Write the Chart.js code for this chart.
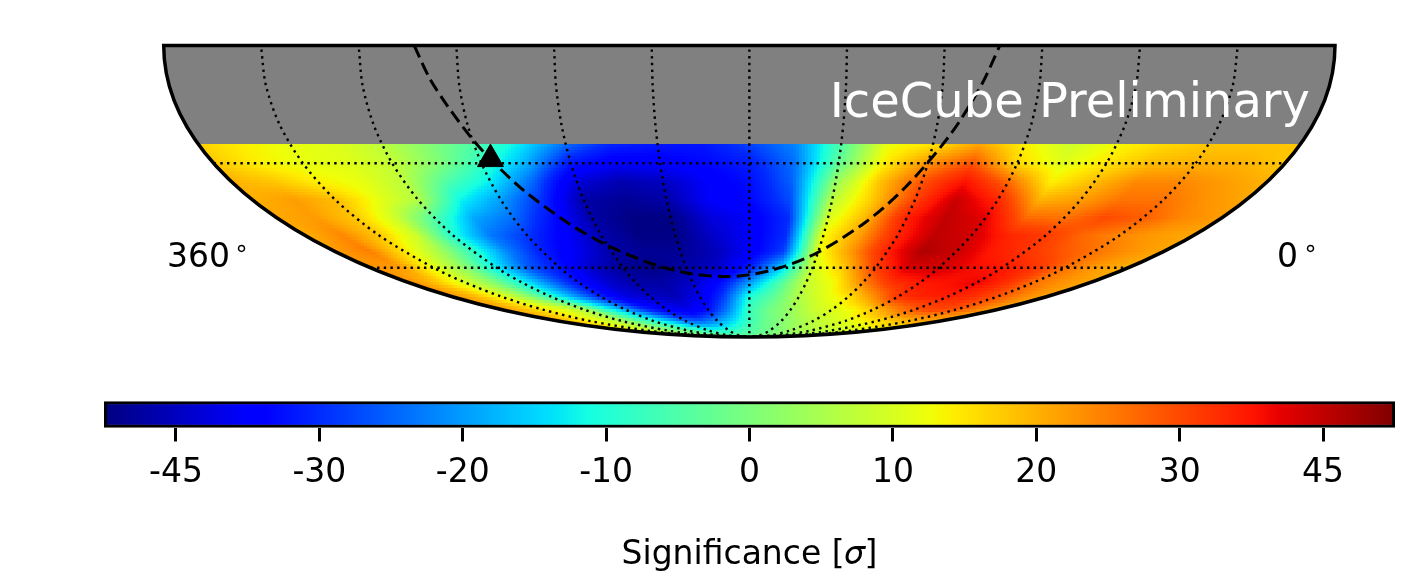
<!DOCTYPE html>
<html>
<head>
<meta charset="utf-8">
<title>IceCube Preliminary</title>
<script src="https://cdn.jsdelivr.net/npm/chart.js@4/dist/chart.umd.min.js"></script>
<style>
  html, body { margin: 0; padding: 0; background: #fff; overflow: hidden; }
  canvas { position: absolute; left: 0; }
  #mapChart { top: 0; }
  #barChart { top: 380px; }
</style>
</head>
<body>
<canvas id="mapChart" width="1427" height="380"></canvas>
<canvas id="barChart" width="1427" height="195"></canvas>
<script>
// grid of the map: right ascension runs 360 -> 0 from left to right
const raColumns = [360,345,330,315,300,285,270,255,240,225,210,195,180,165,150,135,120,105,90,75,60,45,30,15,0];
const decRows = [-25,-30,-35,-40,-45,-50,-55,-60,-65,-70,-75,-80,-85,-90];

// significance, one list per declination
const sigDec25 = [17,14,12,11,7,1,-5,-13,-24,-31,-33,-33,-28,-22,-5,12,15,21,14,9,13,16,18,18,18];
const sigDec30 = [18,14,12,11,8,1,-8,-18,-33,-38,-37,-35,-32,-24,-3,14,23,29,16,11,15,19,20,20,18];
const sigDec35 = [20,18,14,12,7,-5,-13,-25,-42,-47,-45,-38,-34,-25,3,18,29,38,27,14,19,24,24,22,20];
const sigDec40 = [20,22,19,12,6,-12,-20,-30,-48,-50,-48,-38,-35,-27,7,18,31,44,35,20,22,26,26,23,21];
const sigDec45 = [21,22,18,9,-5,-19,-24,-34,-48,-52,-52,-42,-38,-30,10,20,36,45,41,27,26,30,28,24,22];
const sigDec50 = [20,24,18,9,-10,-23,-29,-37,-47,-52,-52,-44,-38,-30,13,22,35,45,43,35,32,27,24,22,21];
const sigDec55 = [22,25,15,5,-8,-22,-32,-39,-48,-50,-50,-46,-38,-28,12,23,36,47,44,37,33,29,26,23,21];
const sigDec60 = [23,22,12,2,-13,-26,-33,-44,-50,-52,-48,-44,-32,-16,9,18,31,42,43,39,37,33,26,22,20];
const sigDec65 = [24,18,10,1,-11,-23,-34,-43,-48,-48,-44,-34,-20,-6,8,13,24,33,37,38,40,34,26,23,21];
const sigDec70 = [23,19,12,3,-9,-20,-31,-41,-44,-46,-40,-28,-10,-3,6,11,15,23,33,36,36,34,29,24,21];
const sigDec75 = [22,19,15,11,6,-8,-19,-30,-37,-40,-34,-22,-7,-1,3,8,11,13,18,24,29,31,29,25,20];
const sigDec80 = [20,18,14,10,5,-3,-9,-16,-24,-25,-20,-14,-7,-2,1,4,7,9,11,13,15,18,20,22,22];
const sigDec85 = [15,13,9,6,3,0,-3,-6,-8,-9,-9,-7,-5,-3,-1,1,3,5,6,7,8,9,10,11,12];
const sigDec90 = [-2,-2,-2,-2,-2,-2,-2,-2,-2,-2,-2,-2,-2,-2,-2,-2,-2,-2,-2,-2,-2,-2,-2,-2,-2];
const sigRows = [sigDec25,sigDec30,sigDec35,sigDec40,sigDec45,sigDec50,sigDec55,sigDec60,sigDec65,sigDec70,sigDec75,sigDec80,sigDec85,sigDec90];

// dashed curve (galactic plane) and the marker on it
const planeRa = [283,279,275,270,266.4,260,250,240,225,210,192.9,180,165,150,135,125,115,108,103];
const planeDec = [0,-8,-14.9,-23.5,-28.9,-37.2,-46.6,-53,-58.8,-61.8,-62.9,-62.3,-59.9,-55.1,-46.1,-36.3,-22.3,-9.9,0];
const centreRa = [266.4];
const centreDec = [-28.9];

// graticule
const meridians = [330,300,270,240,210,180,150,120,90,60,30];
const meridianDecs = [-1,-10,-20,-30,-40,-50,-60,-65,-70,-75,-80,-85,-88,-90];
const parallels = [-30,-60];
const parallelRas = [360,330,300,270,240,210,180,150,120,90,60,30,0];

// colour bar
const barTicks = [-4,-3,-2,-1,0,1,2,3,4];
const barTickLabels = [-45,-30,-20,-10,0,10,20,30,45];
const barEnds = [-4.5,4.5];
const barEndValues = [-52.5,52.5];

const FONT = "'DejaVu Sans', sans-serif";
const SQ2 = Math.SQRT2;

// Mollweide projection, x/y in projection units
function project(ra, dec) {
    const phi = dec * Math.PI / 180;
    let th = phi;
    for (let i = 0; i < 30; i++) {
        const d = 2 * Math.cos(2 * th) + 2;
        if (d < 1e-8) break;
        th -= (2 * th + Math.sin(2 * th) - Math.PI * Math.sin(phi)) / d;
    }
    return {
        x: (2 * SQ2 / Math.PI) * ((ra - 180) * -Math.PI / 180) * Math.cos(th) * -1 * -1,
        y: SQ2 * Math.sin(th)
    };
}

function unproject(x, y) {
    const s = y / SQ2;
    if (Math.abs(s) >= 1) return null;
    const th = Math.asin(s);
    const dec = Math.asin((2 * th + Math.sin(2 * th)) / Math.PI) * 180 / Math.PI;
    const off = (Math.PI * x / (2 * SQ2 * Math.cos(th))) * 180 / Math.PI;
    if (Math.abs(off) > 180) return null;
    return { ra: 180 - off, dec: dec };
}

function sigAt(ra, dec) {
    const c = Math.min(raColumns.length - 1.001, (360 - ra) / 15);
    const r = Math.min(decRows.length - 1.001, (-25 - dec) / 5);
    const c0 = Math.floor(c), r0 = Math.floor(r);
    const a = c - c0, b = r - r0;
    const top = sigRows[r0][c0] * (1 - a) + sigRows[r0][c0 + 1] * a;
    const bot = sigRows[r0 + 1][c0] * (1 - a) + sigRows[r0 + 1][c0 + 1] * a;
    return top * (1 - b) + bot * b;
}

// matplotlib jet
const jetR = [[0,0],[0.35,0],[0.66,1],[0.89,1],[1,0.5]];
const jetG = [[0,0],[0.125,0],[0.375,1],[0.64,1],[0.91,0],[1,0]];
const jetB = [[0,0.5],[0.11,1],[0.34,1],[0.65,0],[1,0]];
function lerpTable(t, tab) {
    for (let i = 1; i < tab.length; i++) {
        if (t <= tab[i][0]) {
            const f = (t - tab[i - 1][0]) / (tab[i][0] - tab[i - 1][0]);
            return tab[i - 1][1] + f * (tab[i][1] - tab[i - 1][1]);
        }
    }
    return tab[tab.length - 1][1];
}
function jet(t) {
    t = Math.max(0, Math.min(1, t));
    return [lerpTable(t, jetR), lerpTable(t, jetG), lerpTable(t, jetB)].map(v => Math.round(v * 255));
}
// significance -> position on the bar -> colour
const normV = [barEndValues[0], ...barTickLabels, barEndValues[1]];
const normP = [barEnds[0], ...barTicks, barEnds[1]];
function sigColor(v) {
    let p = normP[0];
    if (v >= normV[normV.length - 1]) p = normP[normP.length - 1];
    else for (let i = 1; i < normV.length; i++) {
        if (v <= normV[i]) {
            if (v >= normV[i - 1]) p = normP[i - 1] + (v - normV[i - 1]) / (normV[i] - normV[i - 1]) * (normP[i] - normP[i - 1]);
            break;
        }
    }
    return jet((p - barEnds[0]) / (barEnds[1] - barEnds[0]));
}

function ellipsePath(ctx, chart) {
    const xs = chart.scales.x, ys = chart.scales.y;
    const cx = xs.getPixelForValue(0), cy = ys.getPixelForValue(0);
    const rx = xs.getPixelForValue(2 * SQ2) - cx, ry = ys.getPixelForValue(-SQ2) - cy;
    ctx.beginPath();
    ctx.ellipse(cx, cy, rx, ry, 0, 0, Math.PI);
    ctx.closePath();
}

const skyMap = {
    id: 'skyMap',
    beforeDatasetsDraw(chart) {
        const ctx = chart.ctx, a = chart.chartArea, xs = chart.scales.x, ys = chart.scales.y;
        ctx.save();
        ellipsePath(ctx, chart);
        ctx.fillStyle = '#808080';
        ctx.fill();
        ctx.clip();
        const step = 3;
        for (let py = Math.floor(a.top); py < a.bottom + step; py += step) {
            for (let px = Math.floor(a.left); px < a.right; px += step) {
                const p = unproject(xs.getValueForPixel(px + step / 2), ys.getValueForPixel(py + step / 2));
                if (!p || p.dec > -25) continue;
                const c = sigColor(sigAt(p.ra, p.dec));
                ctx.fillStyle = 'rgb(' + c.join(',') + ')';
                ctx.fillRect(px, py, step, step);
            }
        }
        ctx.restore();
    },
    afterDatasetsDraw(chart) {
        const ctx = chart.ctx;
        ctx.save();
        ellipsePath(ctx, chart);
        ctx.lineWidth = 3.5;
        ctx.strokeStyle = '#000';
        ctx.stroke();
        ctx.fillStyle = '#fff';
        ctx.font = '48px ' + FONT;
        ctx.textAlign = 'right';
        ctx.textBaseline = 'alphabetic';
        ctx.fillText('IceCube Preliminary', 1310, 117);
        ctx.fillStyle = '#000';
        ctx.font = '33px ' + FONT;
        ctx.textAlign = 'left';
        ctx.fillText('360', 167, 267);
        ctx.fillText('0', 1277, 267);
        ctx.font = '24px ' + FONT;
        ctx.fillText('\u2218', 234, 256);
        ctx.fillText('\u2218', 1303, 256);
        ctx.restore();
    }
};

const nodes = [];
decRows.forEach((d, r) => raColumns.forEach((ra, c) => {
    const p = project(ra, d);
    nodes.push({ x: p.x, y: p.y, v: sigRows[r][c] });
}));

const gridStyle = { showLine: true, pointRadius: 0, borderColor: '#000', borderWidth: 2.4, borderDash: [2.4, 4.3], fill: false };
const datasets = [{ label: 'Significance', data: nodes, pointRadius: 0, showLine: false }];
meridians.forEach(ra => datasets.push({ label: 'ra ' + ra, data: meridianDecs.map(d => project(ra, d)), tension: 0.3, ...gridStyle }));
parallels.forEach(d => datasets.push({ label: 'dec ' + d, data: parallelRas.map(ra => project(ra, d)), ...gridStyle }));
datasets.push({
    label: 'Galactic plane',
    data: planeRa.map((ra, i) => project(ra, planeDec[i])),
    showLine: true, tension: 0.3, pointRadius: 0,
    borderColor: '#000', borderWidth: 3, borderDash: [13, 6]
});
datasets.push({
    label: 'Galactic centre',
    data: centreRa.map((ra, i) => project(ra, centreDec[i])),
    pointStyle: 'triangle', pointRadius: 15,
    pointBackgroundColor: '#000', pointBorderColor: '#000', clip: false
});

new Chart(document.getElementById('mapChart'), {
    type: 'scatter',
    data: { datasets: datasets },
    options: {
        responsive: false,
        animation: false,
        layout: { padding: { left: 163.7, right: 92, top: 45.5, bottom: 43 } },
        plugins: { legend: { display: false }, tooltip: { enabled: false } },
        scales: {
            x: { display: false, min: -2 * SQ2, max: 2 * SQ2 },
            y: { display: false, min: -SQ2, max: 0 }
        }
    },
    plugins: [skyMap]
});

new Chart(document.getElementById('barChart'), {
    type: 'bar',
    data: {
        labels: [''],
        datasets: [{
            data: [barEnds],
            backgroundColor(ctx) {
                const chart = ctx.chart, a = chart.chartArea;
                if (!a) return '#000';
                const g = chart.ctx.createLinearGradient(a.left, 0, a.right, 0);
                const stops = [0,0.11,0.125,0.34,0.35,0.375,0.64,0.65,0.66,0.89,0.91,1];
                stops.forEach(t => g.addColorStop(t, 'rgb(' + jet(t).join(',') + ')'));
                return g;
            },
            borderColor: '#000',
            borderWidth: 3,
            borderSkipped: false,
            barPercentage: 1,
            categoryPercentage: 1,
            clip: false
        }]
    },
    options: {
        indexAxis: 'y',
        responsive: false,
        animation: false,
        layout: { padding: { left: 104.3, right: 32.3, top: 21.5, bottom: 0 } },
        plugins: { legend: { display: false }, tooltip: { enabled: false } },
        scales: {
            y: { display: false },
            x: {
                type: 'linear',
                min: barEnds[0],
                max: barEnds[1],
                afterBuildTicks(scale) { scale.ticks = barTicks.map(v => ({ value: v })); },
                afterFit(scale) { scale.height = 147.5; },
                border: { display: false },
                grid: { drawOnChartArea: false, drawTicks: true, tickLength: 14, tickColor: '#000', tickWidth: 3 },
                ticks: {
                    color: '#000',
                    autoSkip: false,
                    maxRotation: 0,
                    padding: 12,
                    font: { family: FONT, size: 33 },
                    callback(v) { return barTickLabels[barTicks.indexOf(v)]; }
                },
                title: {
                    display: true,
                    text: 'Significance [\uD835\uDF0E]',
                    color: '#000',
                    font: { family: FONT, size: 33 },
                    padding: { top: 12, bottom: 0 }
                }
            }
        }
    }
});
</script>
</body>
</html>
